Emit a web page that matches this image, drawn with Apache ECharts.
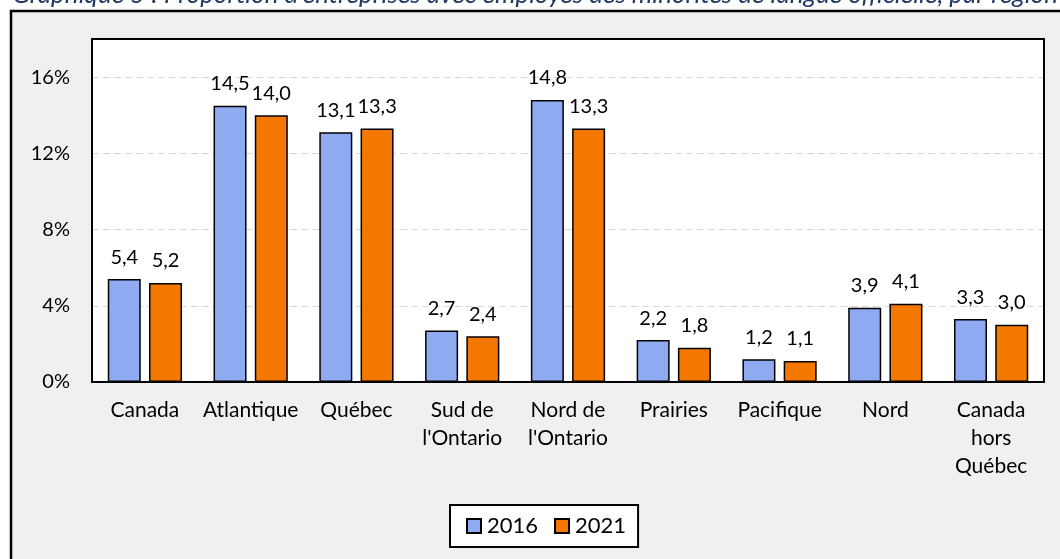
<!DOCTYPE html>
<html>
<head>
<meta charset="utf-8">
<script src="https://cdn.jsdelivr.net/npm/echarts@6/dist/echarts.min.js"></script>
<style>
  html, body { margin: 0; padding: 0; background: #fff; }
  #chart { width: 1060px; height: 559px; }
</style>
</head>
<body>
<div id="chart"></div>
<script>
const regions = ['Canada', 'Atlantique', 'Québec', "Sud de\nl'Ontario", "Nord de\nl'Ontario", 'Prairies', 'Pacifique', 'Nord', 'Canada\nhors\nQuébec'];
const values2016 = [5.4, 14.5, 13.1, 2.7, 14.8, 2.2, 1.2, 3.9, 3.3];
const values2021 = [5.2, 14.0, 13.3, 2.4, 13.3, 1.8, 1.1, 4.1, 3.0];
const yTicks = [0, 4, 8, 12, 16];

const font = 'Lato, "Noto Sans", sans-serif';
const chart = echarts.init(document.getElementById('chart'));

const labelStyle = {
  show: true,
  position: 'top',
  distance: 12,
  color: '#000',
  fontSize: 20,
  fontFamily: font,
  formatter: (p) => p.value.toFixed(1).replace('.', ',')
};

chart.setOption({
  backgroundColor: '#fff',
  animation: false,
  textStyle: { fontFamily: font },
  graphic: [
    {
      type: 'rect',
      z: -10,
      shape: { x: 11, y: 11, width: 1070, height: 570 },
      style: { fill: '#f0f0f0', stroke: '#000', lineWidth: 2.5 }
    },
    {
      type: 'rect',
      z: -5,
      shape: { x: 92, y: 39, width: 952, height: 343 },
      style: { fill: '#fff' }
    },
    {
      type: 'rect',
      z: 50,
      shape: { x: 92, y: 39, width: 952, height: 343 },
      style: { fill: null, stroke: '#000', lineWidth: 2 }
    },
    {
      type: 'text',
      style: {
        x: 1058, y: 8,
        text: "Graphique 5 : Proportion d'entreprises avec employés des minorités de langue officielle, par région",
        align: 'right',
        verticalAlign: 'bottom',
        font: 'italic 26px ' + font,
        fill: '#1f3864'
      }
    }
  ],
  grid: { left: 92, right: 16, top: 39, bottom: 177, containLabel: false },
  legend: {
    bottom: 12,
    left: 450,
    itemWidth: 14,
    itemHeight: 14,
    itemGap: 16,
    icon: 'rect',
    padding: [10, 12, 10, 16],
    backgroundColor: '#fff',
    borderColor: '#000',
    borderWidth: 2,
    textStyle: { fontSize: 22, color: '#000', fontFamily: font, padding: [0, 0, 0, 1] },
    data: ['2016', '2021']
  },
  xAxis: {
    type: 'category',
    data: regions,
    axisLine: { show: true, lineStyle: { color: '#000', width: 2 } },
    axisTick: { show: false },
    axisLabel: { color: '#000', fontSize: 21, lineHeight: 28, margin: 14, interval: 0 }
  },
  yAxis: {
    type: 'value',
    min: 0,
    max: 18,
    interval: 4,
    axisLine: { show: false },
    axisTick: { show: false },
    axisLabel: {
      color: '#000',
      fontSize: 20,
      margin: 22,
      formatter: (v) => (yTicks.includes(v) ? v + '%' : '')
    },
    splitLine: { lineStyle: { color: '#d9d9d9', type: [7, 4], width: 1.2 } }
  },
  series: [
    {
      name: '2016',
      type: 'bar',
      data: values2016,
      barWidth: 33,
      barGap: '25%',
      itemStyle: { color: '#8eaaf0', borderColor: '#000', borderWidth: 1.5 },
      label: labelStyle
    },
    {
      name: '2021',
      type: 'bar',
      data: values2021,
      barWidth: 33,
      itemStyle: { color: '#f47800', borderColor: '#000', borderWidth: 1.5 },
      label: labelStyle
    }
  ]
});
</script>
</body>
</html>
